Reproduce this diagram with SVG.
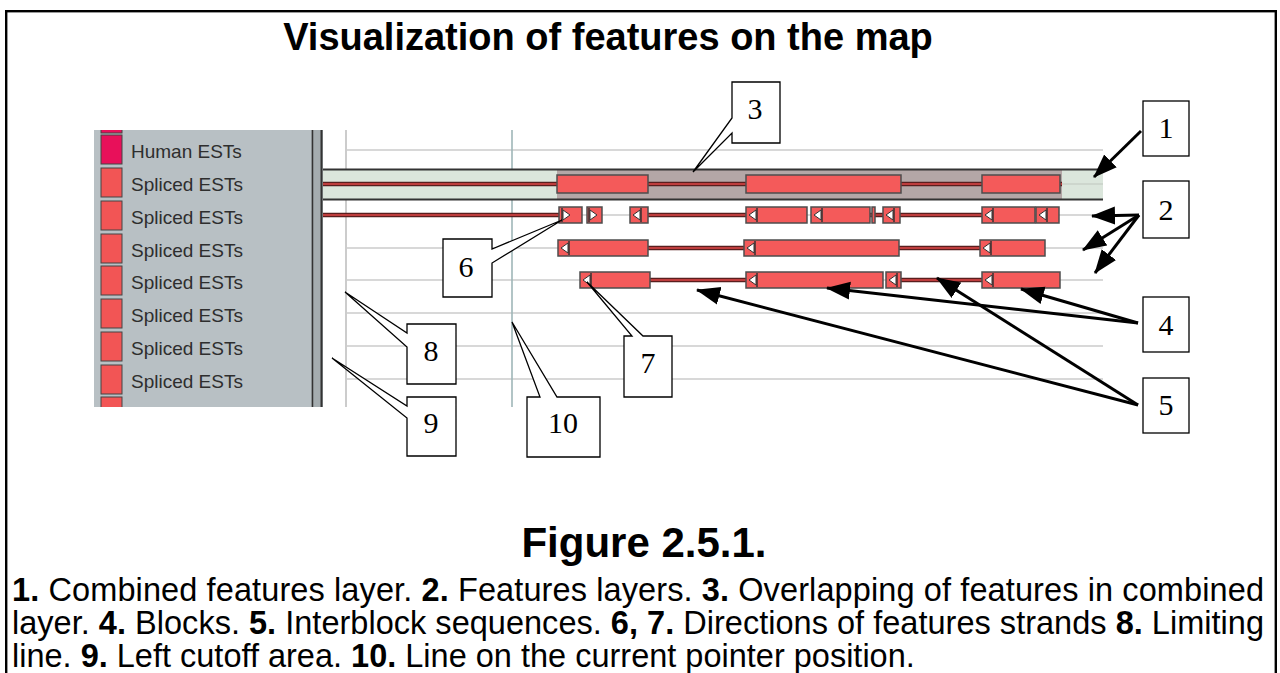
<svg xmlns="http://www.w3.org/2000/svg" width="1280" height="673" viewBox="0 0 1280 673">
<defs>
<style>
.t{font-family:"Liberation Sans",Arial,sans-serif;fill:#000}
.lbl{font-family:"Liberation Sans",Arial,sans-serif;font-size:19px;fill:#2e2e2e}
.num{font-family:"Liberation Serif","Times New Roman",serif;font-size:30px;fill:#000;text-anchor:middle}
.co{fill:#fff;stroke:#000;stroke-width:1.3}
.grid{stroke:#d8d8d8;stroke-width:2}
.blk{fill:#f45a5a;stroke:#4d4d4d;stroke-width:1.5}
.lo{stroke:#5a1e1e;stroke-width:4.5}
.li{stroke:#e04848;stroke-width:1.3}
.arw{stroke:#000;stroke-width:3;fill:none;marker-end:url(#ah)}
.tri{fill:#fff;stroke:#333;stroke-width:1}
.tk{stroke:#333;stroke-width:1.5}
.sw{fill:#f25555;stroke:#444;stroke-width:1}
</style>
<marker id="ah" markerUnits="userSpaceOnUse" markerWidth="26" markerHeight="20" refX="23" refY="10" orient="auto"><path d="M0,1 L24,10 L0,19 Z" fill="#000"/></marker>
<clipPath id="cp"><rect x="90" y="130" width="1020" height="277"/></clipPath>
</defs>

<rect x="6.2" y="11.2" width="1269.6" height="720" fill="none" stroke="#000" stroke-width="2.4"/>

<text class="t" x="608" y="50" font-size="38" font-weight="bold" text-anchor="middle">Visualization of features on the map</text>

<g id="screenshot" clip-path="url(#cp)">
  <rect x="94" y="130" width="218" height="277" fill="#b8c0c4"/>
  <rect x="311" y="130" width="12" height="277" fill="#a4acaf"/>
  <line x1="312.5" y1="130" x2="312.5" y2="407" stroke="#333" stroke-width="1.5"/>
  <line x1="321.5" y1="130" x2="321.5" y2="407" stroke="#333" stroke-width="2"/>
  <rect x="323" y="130" width="782" height="277" fill="#fff"/>
  <g id="legend">
    <rect x="101" y="104" width="21" height="29" fill="#e8105a" stroke="#444"/>
    <rect x="101" y="135" width="21" height="29" fill="#e8105a" stroke="#444"/>
    <text class="lbl" x="131" y="158">Human ESTs</text>
    <rect class="sw" x="101" y="168" width="21" height="29"/>
    <text class="lbl" x="131" y="191">Spliced ESTs</text>
    <rect class="sw" x="101" y="201" width="21" height="29"/>
    <text class="lbl" x="131" y="224">Spliced ESTs</text>
    <rect class="sw" x="101" y="234" width="21" height="29"/>
    <text class="lbl" x="131" y="257">Spliced ESTs</text>
    <rect class="sw" x="101" y="266" width="21" height="29"/>
    <text class="lbl" x="131" y="289">Spliced ESTs</text>
    <rect class="sw" x="101" y="299" width="21" height="29"/>
    <text class="lbl" x="131" y="322">Spliced ESTs</text>
    <rect class="sw" x="101" y="332" width="21" height="29"/>
    <text class="lbl" x="131" y="355">Spliced ESTs</text>
    <rect class="sw" x="101" y="365" width="21" height="29"/>
    <text class="lbl" x="131" y="388">Spliced ESTs</text>
    <rect class="sw" x="101" y="397" width="21" height="29"/>
    <text class="lbl" x="131" y="420">Spliced ESTs</text>
  </g>
  <g id="grid">
    <line class="grid" x1="346" y1="150" x2="1103" y2="150"/>
    <line class="grid" x1="346" y1="215" x2="1103" y2="215"/>
    <line class="grid" x1="346" y1="248" x2="1103" y2="248"/>
    <line class="grid" x1="346" y1="280" x2="1103" y2="280"/>
    <line class="grid" x1="346" y1="313" x2="1103" y2="313"/>
    <line class="grid" x1="346" y1="346" x2="1103" y2="346"/>
    <line class="grid" x1="346" y1="379" x2="1103" y2="379"/>
    <line x1="346" y1="130" x2="346" y2="407" stroke="#cccccc" stroke-width="2"/>
    <line x1="512" y1="130" x2="512" y2="407" stroke="#9fb6b8" stroke-width="1.6"/>
  </g>
  <g id="combined-layer">
    <rect x="323" y="170" width="780" height="29" fill="#dbe6dc"/>
    <rect x="557" y="170" width="505" height="29" fill="#b4a7a7"/>
    <line x1="1062" y1="184" x2="1103" y2="184" stroke="#c8d0c8" stroke-width="1.5"/>
    <line x1="323" y1="169.5" x2="1103" y2="169.5" stroke="#333" stroke-width="2"/>
    <line x1="323" y1="199.5" x2="1103" y2="199.5" stroke="#333" stroke-width="2"/>
    <line class="lo" x1="323" y1="184" x2="1062" y2="184"/>
    <line class="li" x1="323" y1="184" x2="1062" y2="184"/>
    <rect class="blk" x="557" y="175" width="91" height="18"/>
    <rect class="blk" x="746" y="175" width="155" height="18"/>
    <rect class="blk" x="982" y="175" width="78" height="18"/>
  </g>
  <g id="features-row1">
    <line class="lo" x1="323" y1="215" x2="559" y2="215"/><line class="li" x1="323" y1="215" x2="559" y2="215"/>
    <line class="lo" x1="648" y1="215" x2="746" y2="215"/><line class="li" x1="648" y1="215" x2="746" y2="215"/>
    <line class="lo" x1="870" y1="215" x2="883" y2="215"/><line class="li" x1="870" y1="215" x2="883" y2="215"/>
    <line class="lo" x1="900" y1="215" x2="982" y2="215"/><line class="li" x1="900" y1="215" x2="982" y2="215"/>
    <rect class="blk" x="559" y="207" width="23" height="16"/>
    <line class="tk" x1="562" y1="208" x2="562" y2="222"/><polygon class="tri" points="563,210 570,215 563,220"/>
    <rect class="blk" x="587" y="207" width="15" height="16"/>
    <line class="tk" x1="589" y1="208" x2="589" y2="222"/><polygon class="tri" points="590,210 597,215 590,220"/>
    <rect class="blk" x="630" y="207" width="18" height="16"/>
    <polygon class="tri" points="633,215 640,210 640,220"/><line class="tk" x1="641" y1="208" x2="641" y2="222"/>
    <rect class="blk" x="746" y="207" width="61" height="16"/>
    <polygon class="tri" points="749,215 756,210 756,220"/><line class="tk" x1="757" y1="208" x2="757" y2="222"/>
    <rect class="blk" x="811" y="207" width="59" height="16"/>
    <polygon class="tri" points="814,215 821,210 821,220"/><line class="tk" x1="822" y1="208" x2="822" y2="222"/>
    <rect class="blk" x="872" y="207" width="3" height="16"/>
    <rect class="blk" x="883" y="207" width="17" height="16"/>
    <polygon class="tri" points="886,215 893,210 893,220"/><line class="tk" x1="894" y1="208" x2="894" y2="222"/>
    <rect class="blk" x="982" y="207" width="53" height="16"/>
    <polygon class="tri" points="985,215 992,210 992,220"/><line class="tk" x1="993" y1="208" x2="993" y2="222"/>
    <rect class="blk" x="1036" y="207" width="23" height="16"/>
    <polygon class="tri" points="1039,215 1046,210 1046,220"/><line class="tk" x1="1047" y1="208" x2="1047" y2="222"/>
  </g>
  <g id="features-row2">
    <line class="lo" x1="648" y1="248" x2="744" y2="248"/><line class="li" x1="648" y1="248" x2="744" y2="248"/>
    <line class="lo" x1="899" y1="248" x2="980" y2="248"/><line class="li" x1="899" y1="248" x2="980" y2="248"/>
    <rect class="blk" x="558" y="240" width="90" height="16"/>
    <polygon class="tri" points="561,248 568,243 568,253"/><line class="tk" x1="569" y1="241" x2="569" y2="255"/>
    <rect class="blk" x="744" y="240" width="155" height="16"/>
    <polygon class="tri" points="747,248 754,243 754,253"/><line class="tk" x1="755" y1="241" x2="755" y2="255"/>
    <rect class="blk" x="980" y="240" width="65" height="16"/>
    <polygon class="tri" points="983,248 990,243 990,253"/><line class="tk" x1="991" y1="241" x2="991" y2="255"/>
  </g>
  <g id="features-row3">
    <line class="lo" x1="650" y1="280" x2="746" y2="280"/><line class="li" x1="650" y1="280" x2="746" y2="280"/>
    <line class="lo" x1="901" y1="280" x2="982" y2="280"/><line class="li" x1="901" y1="280" x2="982" y2="280"/>
    <rect class="blk" x="580" y="272" width="70" height="16"/>
    <polygon class="tri" points="583,280 590,275 590,285"/><line class="tk" x1="591" y1="273" x2="591" y2="287"/>
    <rect class="blk" x="746" y="272" width="137" height="16"/>
    <polygon class="tri" points="749,280 756,275 756,285"/><line class="tk" x1="757" y1="273" x2="757" y2="287"/>
    <rect class="blk" x="886" y="272" width="15" height="16"/>
    <polygon class="tri" points="889,280 896,275 896,285"/><line class="tk" x1="897" y1="273" x2="897" y2="287"/>
    <rect class="blk" x="982" y="272" width="78" height="16"/>
    <polygon class="tri" points="985,280 992,275 992,285"/><line class="tk" x1="993" y1="273" x2="993" y2="287"/>
  </g>
</g>

<g id="connectors">
  <line class="arw" x1="1141" y1="131" x2="1094" y2="177"/>
  <line class="arw" x1="1139" y1="215" x2="1092" y2="216"/>
  <line class="arw" x1="1139" y1="215" x2="1083" y2="250"/>
  <line class="arw" x1="1139" y1="215" x2="1095" y2="273"/>
  <line class="arw" x1="1138" y1="323" x2="1021" y2="289"/>
  <line class="arw" x1="1138" y1="323" x2="827" y2="288"/>
  <line class="arw" x1="1138" y1="405" x2="937" y2="278"/>
  <line class="arw" x1="1138" y1="405" x2="697" y2="290"/>
</g>

<g id="callout-1"><rect class="co" x="1143" y="101" width="46" height="55"/><text class="num" x="1166" y="138">1</text></g>
<g id="callout-2"><rect class="co" x="1143" y="181" width="46" height="57"/><text class="num" x="1166" y="220">2</text></g>
<g id="callout-3"><path class="co" d="M732,82 H780 V143 H732 V133 L693,172 L732,118 Z"/><text class="num" x="755" y="119">3</text></g>
<g id="callout-4"><rect class="co" x="1143" y="297" width="46" height="55"/><text class="num" x="1166" y="335">4</text></g>
<g id="callout-5"><rect class="co" x="1143" y="378" width="46" height="55"/><text class="num" x="1166" y="415">5</text></g>
<g id="callout-6"><path class="co" d="M443,239 H492 V249 L562,220 L492,263 V297 H443 Z"/><text class="num" x="466" y="277">6</text></g>
<g id="callout-7"><path class="co" d="M624,336 H632 L587,282 L643,336 H672 V397 H624 Z"/><text class="num" x="648" y="373">7</text></g>
<g id="callout-8"><path class="co" d="M407,324 H456 V384 H407 V347 L345,292 L407,333 Z"/><text class="num" x="431" y="361">8</text></g>
<g id="callout-9"><path class="co" d="M407,397 H456 V456 H407 V418 L332,358 L407,406 Z"/><text class="num" x="431" y="433">9</text></g>
<g id="callout-10"><path class="co" d="M527,397 H540 L512,322 L557,397 H600 V457 H527 Z"/><text class="num" x="563" y="433">10</text></g>

<text class="t" x="644" y="557" font-size="42" font-weight="bold" text-anchor="middle">Figure 2.5.1.</text>

<g id="caption" class="t" font-size="32.5">
  <text x="12" y="601" textLength="1252" lengthAdjust="spacing"><tspan font-weight="bold">1.</tspan> Combined features layer. <tspan font-weight="bold">2.</tspan> Features layers. <tspan font-weight="bold">3.</tspan> Overlapping of features in combined</text>
  <text x="12" y="634" textLength="1252" lengthAdjust="spacing">layer. <tspan font-weight="bold">4.</tspan> Blocks. <tspan font-weight="bold">5.</tspan> Interblock sequences. <tspan font-weight="bold">6, 7.</tspan> Directions of features strands <tspan font-weight="bold">8.</tspan> Limiting</text>
  <text x="12" y="667">line. <tspan font-weight="bold">9.</tspan> Left cutoff area. <tspan font-weight="bold">10.</tspan> Line on the current pointer position.</text>
</g>
</svg>
